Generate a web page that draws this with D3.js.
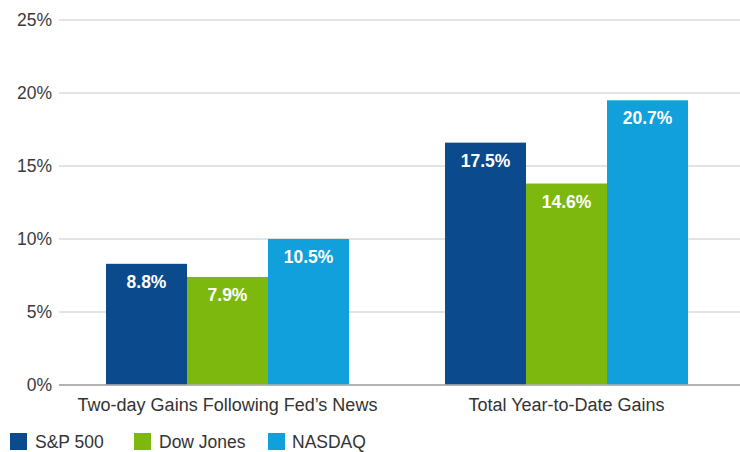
<!DOCTYPE html>
<html>
<head>
<meta charset="utf-8">
<script src="https://cdn.jsdelivr.net/npm/d3@7"></script>
<style>
  body { margin: 0; background: #fff; }
  svg { display: block; font-family: "Liberation Sans", Arial, sans-serif; }
</style>
</head>
<body>
<div id="chart"></div>
<script>
// Data
const categories = ["Two-day Gains Following Fed\u2019s News", "Total Year-to-Date Gains"];
const seriesNames = ["S&P 500", "Dow Jones", "NASDAQ"];
// bar heights as drawn
const sp500 = [8.3, 16.6];
const dowJones = [7.4, 13.8];
const nasdaq = [10.0, 19.5];
// printed value labels
const sp500Labels = ["8.8%", "17.5%"];
const dowJonesLabels = ["7.9%", "14.6%"];
const nasdaqLabels = ["10.5%", "20.7%"];
const yTicks = [0, 5, 10, 15, 20, 25];

const colors = ["#0b4a8c", "#7db80e", "#11a0dc"];

const width = 740, height = 452;

const svg = d3.select("#chart").append("svg")
  .attr("width", width)
  .attr("height", height);

// Scales
const y = d3.scaleLinear().domain([0, 25]).range([385, 20]);
const x0 = d3.scaleBand().domain(categories).range([58, 736]);
const x1 = d3.scaleBand().domain(seriesNames).range([48, x0.bandwidth() - 48]);
const color = d3.scaleOrdinal().domain(seriesNames).range(colors);

// Gridlines + tick labels
const yAxis = svg.append("g").attr("transform", "translate(59,0)")
  .call(d3.axisLeft(y).tickValues(yTicks).tickSize(0).tickPadding(7).tickFormat(d => d + "%"));
yAxis.select(".domain").remove();
yAxis.selectAll("text")
  .style("font-family", "Liberation Sans, Arial, sans-serif")
  .style("font-size", "17.5px")
  .attr("fill", "#3a3a3a");

svg.append("g").selectAll("line")
  .data(yTicks)
  .join("line")
  .attr("x1", 59)
  .attr("x2", width)
  .attr("y1", d => y(d))
  .attr("y2", d => y(d))
  .attr("stroke", d => d === 0 ? "#9a9a9a" : "#dadada")
  .attr("stroke-width", 1.5);

// Bars
const rows = categories.map((c, i) => ({
  category: c,
  values: [
    { name: seriesNames[0], value: sp500[i], label: sp500Labels[i] },
    { name: seriesNames[1], value: dowJones[i], label: dowJonesLabels[i] },
    { name: seriesNames[2], value: nasdaq[i], label: nasdaqLabels[i] },
  ],
}));

const groups = svg.append("g").selectAll("g")
  .data(rows)
  .join("g")
  .attr("transform", d => `translate(${x0(d.category)},0)`);

groups.selectAll("rect")
  .data(d => d.values)
  .join("rect")
  .attr("x", d => x1(d.name))
  .attr("width", x1.bandwidth())
  .attr("y", d => y(d.value))
  .attr("height", d => y(0) - y(d.value) - 0.75)
  .attr("fill", d => color(d.name));

groups.selectAll("text")
  .data(d => d.values)
  .join("text")
  .attr("x", d => x1(d.name) + x1.bandwidth() / 2)
  .attr("y", d => y(d.value) + 24)
  .attr("text-anchor", "middle")
  .attr("fill", "#fff")
  .style("font-size", "17.5px")
  .style("font-weight", "bold")
  .text(d => d.label);

// Category labels
svg.append("g").selectAll("text")
  .data(categories)
  .join("text")
  .attr("x", d => x0(d) + x0.bandwidth() / 2)
  .attr("y", 411)
  .attr("text-anchor", "middle")
  .attr("fill", "#333")
  .style("font-size", "18px")
  .text(d => d);

// Legend
const legendBoxX = [10, 134, 268];
const legendTextX = [35, 159, 292];
const legend = svg.append("g").selectAll("g")
  .data(seriesNames)
  .join("g");

legend.append("rect")
  .attr("x", (d, i) => legendBoxX[i])
  .attr("y", 433)
  .attr("width", 17)
  .attr("height", 17)
  .attr("fill", d => color(d));

legend.append("text")
  .attr("x", (d, i) => legendTextX[i])
  .attr("y", 448)
  .attr("fill", "#333")
  .style("font-size", "17.5px")
  .text(d => d);
</script>
</body>
</html>
